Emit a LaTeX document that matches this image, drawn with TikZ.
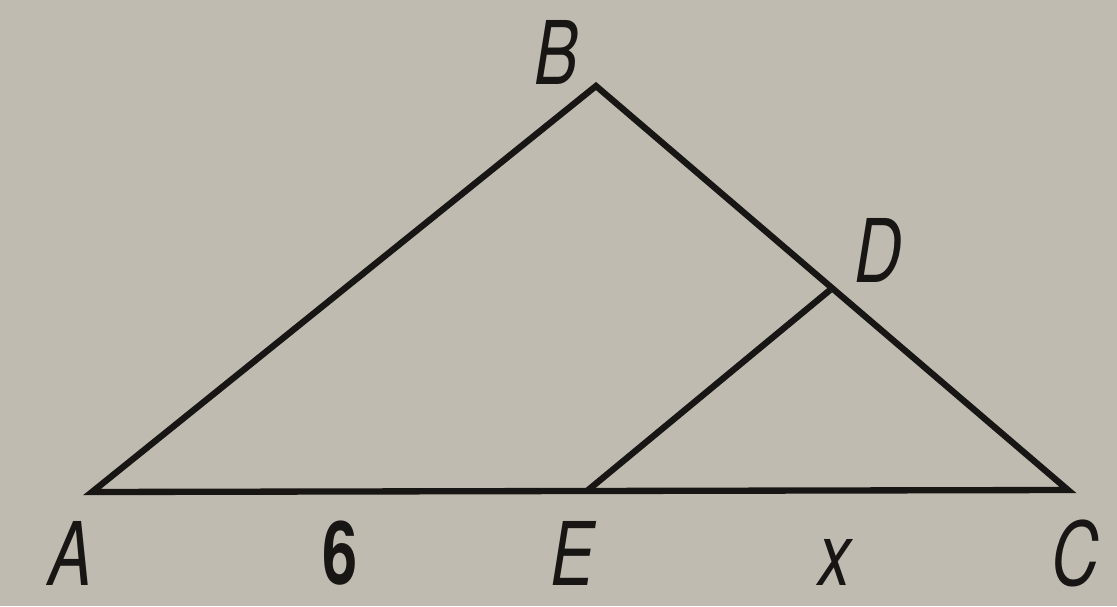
\documentclass[tikz,border=0pt]{standalone}
\usepackage{fontspec}
\newfontfamily\lblfont{TeX Gyre Heros}
\usetikzlibrary{positioning}
\definecolor{paper}{RGB}{192,187,176}
\definecolor{ink}{RGB}{24,22,20}

\begin{document}
\begin{tikzpicture}[x=0.02cm,y=-0.02cm,
    lbl/.style={font=\lblfont\fontsize{50}{50}\selectfont\itshape, text=ink, xscale=0.75, inner sep=0pt},
    num/.style={font=\lblfont\fontsize{50}{50}\selectfont\bfseries, text=ink, xscale=0.72, inner sep=0pt},
    side/.style={draw=ink, line width=3.6pt, line join=miter}]
    % ---- background ----
    \fill[paper] (0,0) rectangle (1117,606);
    \useasboundingbox (0,0) rectangle (1117,606);
    % ---- points ----
    \coordinate (A) at (92,492);
    \coordinate (B) at (596,86);
    \coordinate (C) at (1068,490);
    \coordinate (D) at (830,290);
    \coordinate (E) at (587,491);
    % ---- sides ----
    \draw[side] (A) -- (B) -- (C) -- cycle;
    \draw[side] (E) -- (D);
    % ---- labels ----
    \node[lbl] (lA) at (70,553) {A};
    \node[lbl] (lB) at (556,52) {B};
    \node[lbl] (lC) at (1075,553) {C};
    \node[lbl] (lD) at (878,250) {D};
    \node[lbl] (lE) at (572,553) {E};
    \node[num] (l6) at (340,553) {6};
    \node[lbl] (lx) at (835,562) {x};
\end{tikzpicture}
\end{document}
